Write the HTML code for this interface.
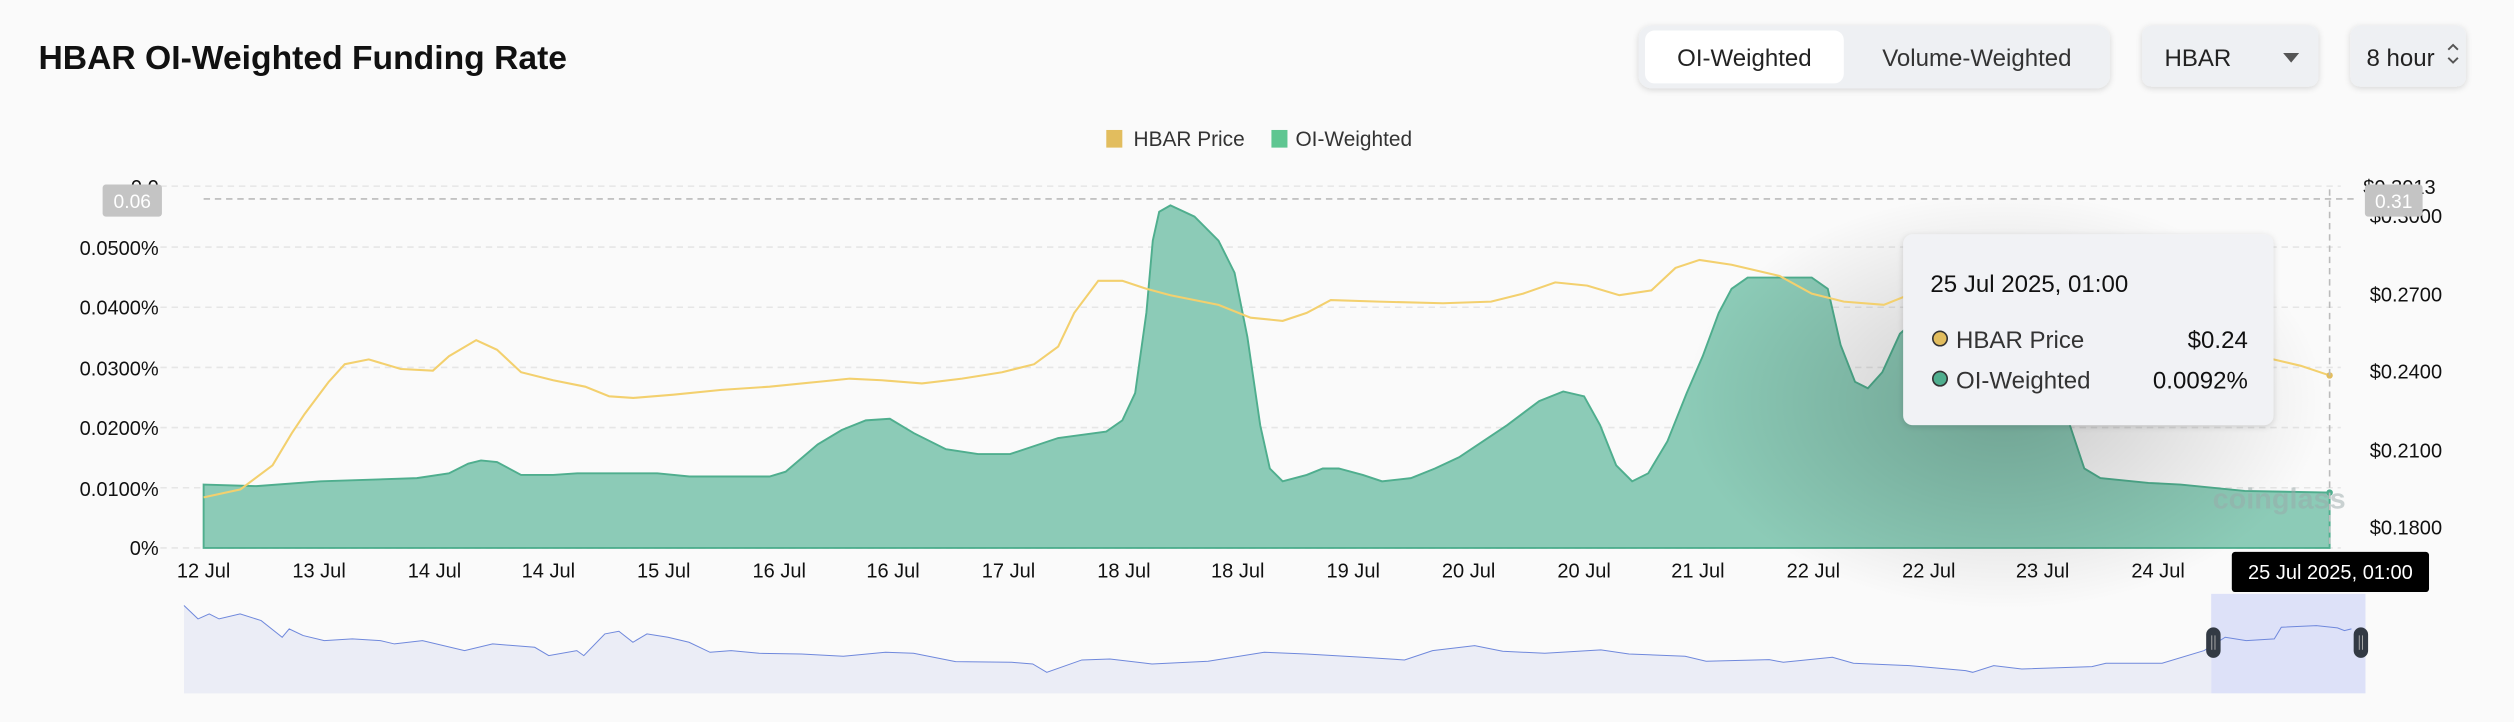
<!DOCTYPE html>
<html><head><meta charset="utf-8"><style>
html,body{margin:0;padding:0;background:#fafafa;}
svg{display:block;font-family:"Liberation Sans",sans-serif;}
</style></head><body>
<svg width="2514" height="722" viewBox="0 0 1568 450" preserveAspectRatio="none" xmlns="http://www.w3.org/2000/svg">
<defs>
<radialGradient id="sh" cx="0.5" cy="0.5" r="0.5">
<stop offset="0" stop-color="#000" stop-opacity="0.2"/>
<stop offset="1" stop-color="#000" stop-opacity="0"/>
</radialGradient>
<filter id="ds" x="-20%" y="-20%" width="140%" height="140%"><feDropShadow dx="0" dy="1" stdDeviation="2" flood-opacity="0.15"/></filter>
</defs>
<rect width="1568" height="450" fill="#fafafa"/>
<text x="24" y="43" font-size="21" font-weight="bold" fill="#111">HBAR OI-Weighted Funding Rate</text>
<!-- buttons -->
<rect x="1022" y="16" width="294" height="39" rx="8" fill="#eef0f3" filter="url(#ds)"/>
<rect x="1026" y="19" width="124" height="33" rx="6" fill="#fff"/>
<text x="1088" y="41" font-size="15" fill="#222" text-anchor="middle">OI-Weighted</text>
<text x="1233" y="41" font-size="15" fill="#333" text-anchor="middle">Volume-Weighted</text>
<rect x="1336" y="16" width="110" height="38" rx="6" fill="#eef0f3" filter="url(#ds)"/>
<text x="1350" y="41" font-size="15" fill="#222">HBAR</text>
<path d="M1424 33 L1434 33 L1429 39 Z" fill="#555"/>
<rect x="1466" y="16" width="72" height="38" rx="6" fill="#eef0f3" filter="url(#ds)"/>
<text x="1476" y="41" font-size="15" fill="#222">8 hour</text>
<path d="M1527 31 L1530 28 L1533 31 M1527 36 L1530 39 L1533 36" stroke="#555" fill="none" stroke-width="1.2"/>
<!-- legend -->
<rect x="690" y="81" width="10" height="11" fill="#e2bd5e"/>
<text x="707" y="91" font-size="13" fill="#333">HBAR Price</text>
<rect x="793" y="81" width="10" height="11" fill="#5ec691"/>
<text x="808" y="91" font-size="13" fill="#333">OI-Weighted</text>
<!-- grid -->
<g stroke="#e6e6e6" stroke-dasharray="4 3" stroke-width="1">
<line x1="100" x2="1460" y1="116" y2="116"/>
<line x1="100" x2="1460" y1="154" y2="154"/>
<line x1="100" x2="1460" y1="191.5" y2="191.5"/>
<line x1="100" x2="1460" y1="229" y2="229"/>
<line x1="100" x2="1460" y1="266.5" y2="266.5"/>
<line x1="100" x2="1460" y1="304" y2="304"/>
<line x1="100" x2="1460" y1="341.5" y2="341.5"/>
</g>
<g font-size="12.5" fill="#111" text-anchor="end">
<text x="99" y="121">0.0</text>
<text x="99" y="159">0.0500%</text>
<text x="99" y="196">0.0400%</text>
<text x="99" y="234">0.0300%</text>
<text x="99" y="271">0.0200%</text>
<text x="99" y="309">0.0100%</text>
<text x="99" y="346">0%</text>
</g>
<g font-size="12.5" fill="#111">
<text x="1474" y="121">$0.3013</text>
<text x="1478" y="139">$0.3000</text>
<text x="1478" y="188">$0.2700</text>
<text x="1478" y="236">$0.2400</text>
<text x="1478" y="285">$0.2100</text>
<text x="1478" y="333">$0.1800</text>
</g>
<!-- area -->
<path fill="#8ccbb7" stroke="#4fae8e" stroke-width="1.2" d="M127,302 L160,303 L200,300 L260,298 L280,295 L292,289 L300,287 L310,288 L325,296 L345,296 L360,295 L380,295 L410,295 L430,297 L480,297 L490,294 L510,277 L525,268 L540,262 L555,261 L570,270 L590,280 L610,283 L630,283 L660,273 L690,269 L700,262 L708,245 L715,195 L719,150 L723,132 L730,128 L745,135 L760,150 L770,170 L778,210 L786,265 L792,292 L800,300 L815,296 L825,292 L835,292 L850,296 L862,300 L880,298 L895,292 L910,285 L940,265 L960,250 L975,244 L988,247 L998,265 L1008,290 L1018,300 L1028,295 L1040,275 L1052,245 L1062,222 L1072,195 L1080,180 L1090,173 L1130,173 L1140,180 L1148,215 L1157,238 L1165,242 L1174,232 L1185,208 L1200,195 L1230,192 L1260,205 L1280,230 L1290,262 L1300,292 L1310,298 L1340,301 L1360,302 L1400,306 L1453,307 L1453,341.5 L127,341.5 Z"/>
<ellipse cx="1250" cy="250" rx="200" ry="130" fill="url(#sh)"/>
<text x="1380" y="317" font-size="18" font-weight="bold" fill="#9aa" opacity="0.5">coinglass</text>
<!-- price line -->
<path fill="none" stroke="#f3d06e" stroke-width="1.3" d="M127,310 L150,305 L170,290 L182,270 L190,258 L205,238 L215,227 L230,224 L250,230 L270,231 L280,222 L297,212 L310,218 L325,232 L345,237 L365,241 L380,247 L395,248 L420,246 L450,243 L480,241 L510,238 L530,236 L550,237 L575,239 L600,236 L625,232 L645,227 L660,216 L670,195 L685,175 L700,175 L715,180 L730,184 L760,190 L780,198 L800,200 L815,195 L830,187 L860,188 L900,189 L930,188 L950,183 L970,176 L990,178 L1010,184 L1030,181 L1045,167 L1060,162 L1080,165 L1110,172 L1130,183 L1150,188 L1175,190 L1190,184 L1418,224 L1435,228 L1453,234"/>
<circle cx="1453" cy="234" r="2" fill="#e2bd5e"/>
<circle cx="1453" cy="307" r="2" fill="#4fae8e"/>
<!-- crosshair -->
<line x1="127" x2="1470" y1="124" y2="124" stroke="#bbb" stroke-dasharray="4 3"/>
<line x1="1453" x2="1453" y1="118" y2="341" stroke="#bbb" stroke-dasharray="4 3"/>
<rect x="64" y="115" width="37" height="20" rx="2" fill="#c4c4c4"/>
<text x="82.5" y="129.5" font-size="12" fill="#fff" text-anchor="middle">0.06</text>
<rect x="1475" y="115" width="36" height="20" rx="2" fill="#c4c4c4"/>
<text x="1493" y="129.5" font-size="12" fill="#fff" text-anchor="middle">0.31</text>
<!-- tooltip -->
<rect x="1187" y="146" width="231" height="119" rx="6" fill="#f1f2f5" filter="url(#ds)"/>
<text x="1204" y="182" font-size="15" fill="#111">25 Jul 2025, 01:00</text>
<circle cx="1210" cy="211" r="4.5" fill="#e2bd5e" stroke="#333" stroke-width="1"/>
<text x="1220" y="217" font-size="15" fill="#333">HBAR Price</text>
<text x="1402" y="217" font-size="15" fill="#111" text-anchor="end">$0.24</text>
<circle cx="1210" cy="236" r="4.5" fill="#4fae8e" stroke="#333" stroke-width="1"/>
<text x="1220" y="242" font-size="15" fill="#333">OI-Weighted</text>
<text x="1402" y="242" font-size="15" fill="#111" text-anchor="end">0.0092%</text>
<!-- x labels -->
<g font-size="12.5" fill="#111" text-anchor="middle">
<text x="127" y="360">12 Jul</text><text x="199" y="360">13 Jul</text><text x="271" y="360">14 Jul</text><text x="342" y="360">14 Jul</text><text x="414" y="360">15 Jul</text><text x="486" y="360">16 Jul</text><text x="557" y="360">16 Jul</text><text x="629" y="360">17 Jul</text><text x="701" y="360">18 Jul</text><text x="772" y="360">18 Jul</text><text x="844" y="360">19 Jul</text><text x="916" y="360">20 Jul</text><text x="988" y="360">20 Jul</text><text x="1059" y="360">21 Jul</text><text x="1131" y="360">22 Jul</text><text x="1203" y="360">22 Jul</text><text x="1274" y="360">23 Jul</text><text x="1346" y="360">24 Jul</text>
</g>
<rect x="1392" y="344" width="123" height="25" rx="2" fill="#000"/>
<text x="1453.5" y="361" font-size="12.5" fill="#fff" text-anchor="middle">25 Jul 2025, 01:00</text>
<!-- navigator -->
<g transform="translate(106,368.06) scale(0.875,0.208)">
<rect x="1455" y="10" width="110" height="298" fill="#dde1f8"/>
<path fill="#e7eaf5" fill-opacity="0.85" d="M10,45 L20,85 L28,70 L35,85 L50,70 L65,90 L80,140 L85,115 L95,135 L110,150 L130,145 L150,150 L160,160 L180,150 L210,180 L230,160 L260,170 L270,195 L290,180 L295,195 L310,130 L320,122 L330,155 L340,130 L355,140 L370,155 L385,185 L400,180 L420,188 L450,190 L480,197 L510,185 L530,188 L560,213 L600,215 L615,220 L625,245 L650,208 L670,205 L700,220 L740,212 L780,185 L810,190 L850,200 L880,208 L900,180 L930,165 L950,182 L980,188 L1020,178 L1040,190 L1080,197 L1095,212 L1140,207 L1150,215 L1185,200 L1200,218 L1240,225 L1280,240 L1285,245 L1300,225 L1320,235 L1370,228 L1380,218 L1420,218 L1450,180 L1455,160 L1455,308 L10,308 Z"/>
<path fill="none" stroke="#6f88dc" stroke-width="1" vector-effect="non-scaling-stroke" d="M10,45 L20,85 L28,70 L35,85 L50,70 L65,90 L80,140 L85,115 L95,135 L110,150 L130,145 L150,150 L160,160 L180,150 L210,180 L230,160 L260,170 L270,195 L290,180 L295,195 L310,130 L320,122 L330,155 L340,130 L355,140 L370,155 L385,185 L400,180 L420,188 L450,190 L480,197 L510,185 L530,188 L560,213 L600,215 L615,220 L625,245 L650,208 L670,205 L700,220 L740,212 L780,185 L810,190 L850,200 L880,208 L900,180 L930,165 L950,182 L980,188 L1020,178 L1040,190 L1080,197 L1095,212 L1140,207 L1150,215 L1185,200 L1200,218 L1240,225 L1280,240 L1285,245 L1300,225 L1320,235 L1370,228 L1380,218 L1420,218 L1450,180 L1465,140 L1480,150 L1500,145 L1505,110 L1530,105 L1545,112 L1550,120 L1555,115"/>
</g>
<rect x="1376" y="391" width="9" height="19" rx="4.5" fill="#333a44"/>
<rect x="1468" y="391" width="9" height="19" rx="4.5" fill="#333a44"/>
<line x1="1379.5" x2="1379.5" y1="396" y2="405" stroke="#aaa" stroke-width="0.6"/>
<line x1="1381.5" x2="1381.5" y1="396" y2="405" stroke="#aaa" stroke-width="0.6"/>
<line x1="1471.5" x2="1471.5" y1="396" y2="405" stroke="#aaa" stroke-width="0.6"/>
<line x1="1473.5" x2="1473.5" y1="396" y2="405" stroke="#aaa" stroke-width="0.6"/>
</svg>
</body></html>
